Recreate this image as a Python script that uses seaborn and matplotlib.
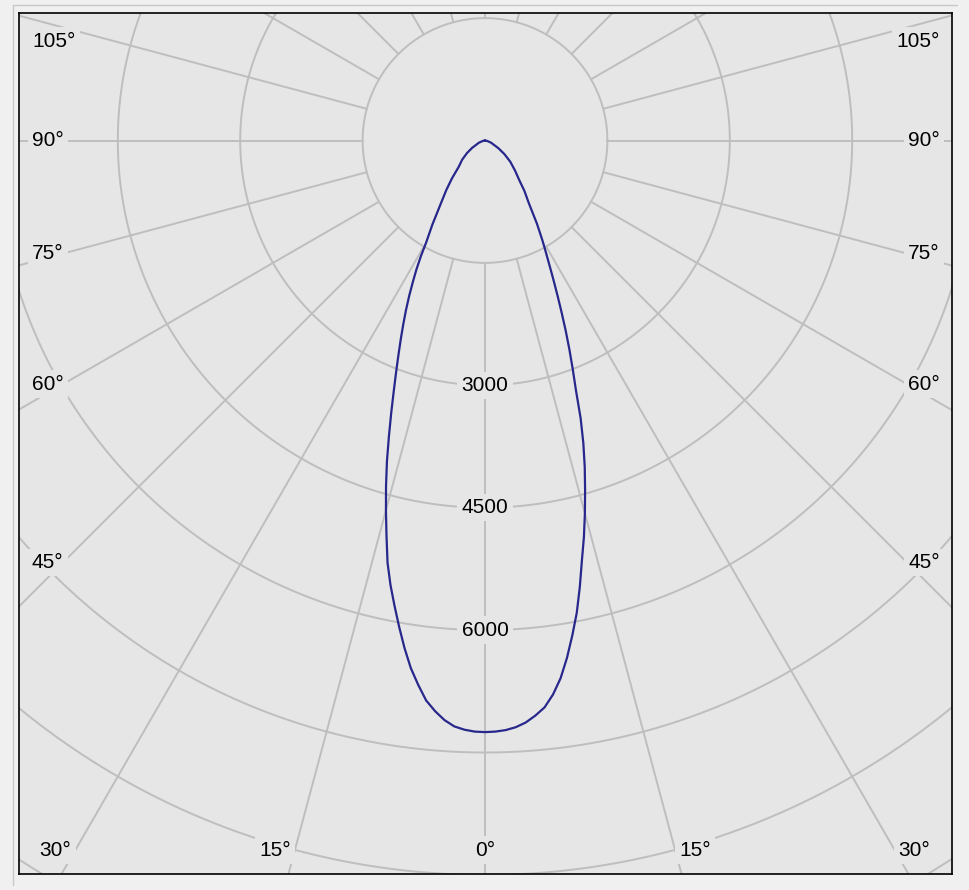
import numpy as np
import pandas as pd
import matplotlib
matplotlib.use("Agg")
import matplotlib.pyplot as plt
import seaborn as sns
from matplotlib.lines import Line2D

# luminous intensity (cd) against gamma angle (deg, 0 = straight down)
gamma = [0, 1, 2, 3, 4, 5, 6, 7, 8, 9, 10, 11, 12, 13, 14, 15, 16, 17, 18, 19, 20,
         21, 22, 23, 24, 25, 26, 27, 28, 29, 30, 32, 35, 38, 41, 45, 50, 55, 60, 70, 80, 90]
c0 = [7250, 7245, 7230, 7200, 7150, 7075, 6985, 6840, 6655, 6420, 6160,
      5895, 5590, 5280, 5010, 4730, 4450, 4180, 3900, 3600, 3260,
      3000, 2760, 2530, 2310, 2110, 1930, 1770, 1630, 1510, 1400,
      1200, 935, 785, 637, 520, 404, 290, 190, 80, 25, 0]
c180 = [7250, 7245, 7225, 7190, 7120, 7020, 6900, 6720, 6530, 6300, 6055,
        5810, 5570, 5310, 4990, 4690, 4400, 4110, 3810, 3530, 3270,
        3040, 2830, 2640, 2460, 2290, 2120, 1950, 1790, 1620, 1440,
        1220, 945, 770, 620, 455, 365, 270, 185, 80, 25, 0]

ring_values = [1500, 3000, 4500, 6000, 7500, 9000, 10500, 12000]
ring_labels = [3000, 4500, 6000]
angle_labels = [0, 15, 30, 45, 60, 75, 90, 105]
spoke_angles = list(range(0, 360, 15))

bg = "#e6e6e6"
grid_col = "#bebebe"
curve_col = "#27278c"

# layout in pixels (figure 969 x 890 at dpi 100)
W, H = 969, 890
center_px = (485, 140.5)
frame_px = (18.5, 12.5, 952, 874)   # left, top, right, bottom
k = 0.0816                          # px per cd

sns.set_theme(style="white")
plt.rcParams["font.family"] = ["Liberation Sans", "DejaVu Sans"]

fig = plt.figure(figsize=(W / 100, H / 100), dpi=100, facecolor="#f0f0f0")
l, t, r, b = frame_px
ax = fig.add_axes([l / W, (H - b) / H, (r - l) / W, (b - t) / H])
ax.set_facecolor(bg)

x0 = -(center_px[0] - l) / k
x1 = (r - center_px[0]) / k
y0 = -(b - center_px[1]) / k
y1 = (center_px[1] - t) / k
ax.set_xlim(x0, x1)
ax.set_ylim(y0, y1)
ax.set_aspect("equal")

# rings and spokes
th = np.linspace(0, 2 * np.pi, 721)
for rv in ring_values:
    ax.plot(rv * np.cos(th), rv * np.sin(th), color=grid_col, lw=1.4, zorder=1)
for a in spoke_angles:
    g = np.radians(a)
    ax.plot([ring_values[0] * np.sin(g), 14000 * np.sin(g)],
            [-ring_values[0] * np.cos(g), -14000 * np.cos(g)],
            color=grid_col, lw=1.4, zorder=1)

# photometric curve: C180 on the left, C0 on the right
g180 = np.radians(gamma[::-1])
i180 = np.array(c180[::-1])
g0 = np.radians(gamma)
i0 = np.array(c0)
df = pd.DataFrame({
    "x": np.concatenate([-i180 * np.sin(g180), i0 * np.sin(g0)]),
    "y": np.concatenate([-i180 * np.cos(g180), -i0 * np.cos(g0)]),
})
sns.lineplot(data=df, x="x", y="y", sort=False, estimator=None,
             color=curve_col, lw=1.6, ax=ax, zorder=3)

box = dict(boxstyle="square,pad=0.2", fc=bg, ec="none")
fs = 15

for rv in ring_labels:
    ax.text(0, -rv, str(rv), ha="center", va="center", fontsize=fs,
            color="black", bbox=box, zorder=4)

side_x = 422 / k
left_x = x0 + 13.5 / k
right_x = x1 - 12 / k
bottom_y = y0 + 24 / k
top_y = y1 - 28.5 / k
for a in angle_labels:
    g = np.radians(a)
    sides = [0] if a == 0 else [-1, 1]
    for s in sides:
        if a < 40:
            yy = bottom_y
            xx = s * abs(yy) * np.tan(g)
            ha = "center" if s == 0 else ("right" if s < 0 else "left")
            off = 0 if s == 0 else 4 * s
            ax.annotate(f"{a}°", (xx, yy), xytext=(off * 0.72, 0),
                        textcoords="offset points", ha=ha, va="center",
                        fontsize=fs, color="black", bbox=box, zorder=4)
        else:
            yy = -side_x / np.tan(g) if a != 90 else 0
            yy = min(yy, top_y)
            xx = left_x if s < 0 else right_x
            ha = "left" if s < 0 else "right"
            ax.text(xx, yy, f"{a}°", ha=ha, va="center", fontsize=fs,
                    color="black", bbox=box, zorder=4)

ax.set_xlabel("")
ax.set_ylabel("")
ax.set_xticks([])
ax.set_yticks([])
for sp in ax.spines.values():
    sp.set_visible(True)
    sp.set_color("black")
    sp.set_linewidth(1.2)

# light outer frame lines
fig.add_artist(Line2D([13 / W, 13 / W], [1 - 5 / H, 1 - 885 / H],
                      transform=fig.transFigure, color="#c8c8c8", lw=1))
fig.add_artist(Line2D([13 / W, 957 / W], [1 - 5 / H, 1 - 5 / H],
                      transform=fig.transFigure, color="#c8c8c8", lw=1))

fig.savefig("out.png", dpi=100, facecolor=fig.get_facecolor())
